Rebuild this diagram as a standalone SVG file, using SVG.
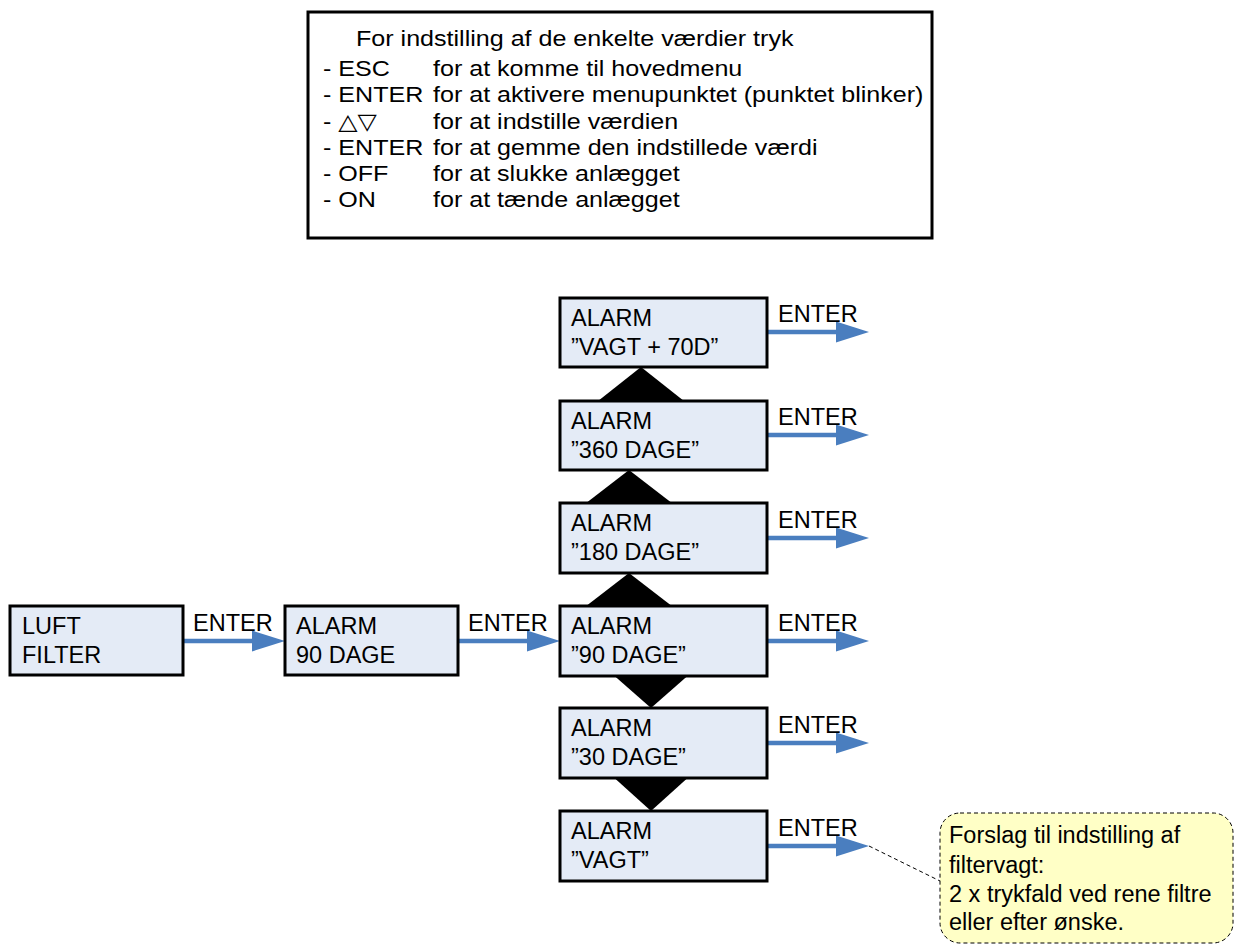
<svg xmlns="http://www.w3.org/2000/svg" width="1242" height="944" viewBox="0 0 1242 944">
<style>
text{font-family:"Liberation Sans","DejaVu Sans",Arial,sans-serif;fill:#000}
.node{fill:#E4EBF6;stroke:#000;stroke-width:3}
.t{font-size:23.5px}
.leg{font-size:22px}
.arr{stroke:#4A7EBF;stroke-width:4.5;fill:none}
.tri{fill:#000}
</style>
<defs>
<marker id="ah" markerUnits="userSpaceOnUse" markerWidth="34" markerHeight="22" refX="0" refY="10.5" orient="auto" overflow="visible">
<path d="M0,0 L33,10.5 L0,21 Z" fill="#4A7EBF"/>
</marker>
</defs>
<g id="legend">
<rect x="308" y="12" width="624" height="226" fill="#fff" stroke="#000" stroke-width="3"/>
<text class="leg" transform="translate(356,46) scale(1.14,1)">For indstilling af de enkelte værdier tryk</text>
<text class="leg" transform="translate(323,76) scale(1.14,1)">- ESC</text>
<text class="leg" transform="translate(433,76) scale(1.14,1)">for at komme til hovedmenu</text>
<text class="leg" transform="translate(323,102) scale(1.14,1)">- ENTER</text>
<text class="leg" transform="translate(433,102) scale(1.14,1)">for at aktivere menupunktet (punktet blinker)</text>
<text class="leg" transform="translate(323,129) scale(1.14,1)">- △▽</text>
<text class="leg" transform="translate(433,129) scale(1.14,1)">for at indstille værdien</text>
<text class="leg" transform="translate(323,155) scale(1.14,1)">- ENTER</text>
<text class="leg" transform="translate(433,155) scale(1.14,1)">for at gemme den indstillede værdi</text>
<text class="leg" transform="translate(323,181) scale(1.14,1)">- OFF</text>
<text class="leg" transform="translate(433,181) scale(1.14,1)">for at slukke anlægget</text>
<text class="leg" transform="translate(323,207) scale(1.14,1)">- ON</text>
<text class="leg" transform="translate(433,207) scale(1.14,1)">for at tænde anlægget</text>
</g>
<g id="connectors">
<polygon class="tri" points="641,367 689,405 593,405"/>
<polygon class="tri" points="629,470 677,507 581,507"/>
<polygon class="tri" points="629,573 677,610 581,610"/>
<polygon class="tri" points="610,672 692,672 651,708"/>
<polygon class="tri" points="610,774 692,774 651,811"/>
<line class="arr" x1="183" y1="641" x2="252" y2="641" marker-end="url(#ah)"/>
<line class="arr" x1="458" y1="641" x2="527" y2="641" marker-end="url(#ah)"/>
<line class="arr" x1="766" y1="332" x2="836" y2="332" marker-end="url(#ah)"/>
<line class="arr" x1="766" y1="435" x2="836" y2="435" marker-end="url(#ah)"/>
<line class="arr" x1="766" y1="538" x2="836" y2="538" marker-end="url(#ah)"/>
<line class="arr" x1="766" y1="641" x2="836" y2="641" marker-end="url(#ah)"/>
<line class="arr" x1="766" y1="743" x2="836" y2="743" marker-end="url(#ah)"/>
<line class="arr" x1="766" y1="846" x2="836" y2="846" marker-end="url(#ah)"/>
<text class="t" x="193" y="631">ENTER</text>
<text class="t" x="468" y="631">ENTER</text>
<text class="t" x="778" y="322">ENTER</text>
<text class="t" x="778" y="425">ENTER</text>
<text class="t" x="778" y="528">ENTER</text>
<text class="t" x="778" y="631">ENTER</text>
<text class="t" x="778" y="733">ENTER</text>
<text class="t" x="778" y="836">ENTER</text>
<line x1="869" y1="846" x2="940" y2="881" stroke="#000" stroke-width="1" stroke-dasharray="4,3"/>
</g>
<g id="luft">
<rect class="node" x="10" y="606" width="173" height="69"/>
<text class="t" x="22" y="634">LUFT</text>
<text class="t" x="22" y="663">FILTER</text>
</g>
<g id="alarm90start">
<rect class="node" x="285" y="606" width="173" height="69"/>
<text class="t" x="296" y="634">ALARM</text>
<text class="t" x="296" y="663">90 DAGE</text>
</g>
<g id="vagt70">
<rect class="node" x="560" y="298" width="207" height="69"/>
<text class="t" x="571" y="326">ALARM</text>
<text class="t" x="571" y="355">”VAGT + 70D”</text>
</g>
<g id="d360">
<rect class="node" x="560" y="401" width="207" height="69"/>
<text class="t" x="571" y="429">ALARM</text>
<text class="t" x="571" y="458">”360 DAGE”</text>
</g>
<g id="d180">
<rect class="node" x="560" y="503" width="207" height="70"/>
<text class="t" x="571" y="531">ALARM</text>
<text class="t" x="571" y="560">”180 DAGE”</text>
</g>
<g id="d90">
<rect class="node" x="560" y="606" width="207" height="70"/>
<text class="t" x="571" y="634">ALARM</text>
<text class="t" x="571" y="663">”90 DAGE”</text>
</g>
<g id="d30">
<rect class="node" x="560" y="708" width="207" height="70"/>
<text class="t" x="571" y="736">ALARM</text>
<text class="t" x="571" y="765">”30 DAGE”</text>
</g>
<g id="vagt">
<rect class="node" x="560" y="811" width="207" height="70"/>
<text class="t" x="571" y="839">ALARM</text>
<text class="t" x="571" y="868">”VAGT”</text>
</g>
<g id="callout">
<rect x="940" y="813" width="293" height="130" rx="20" ry="20" fill="#FFFFC6" stroke="#000" stroke-width="1" stroke-dasharray="4,3"/>
<text class="t" x="949" y="843">Forslag til indstilling af</text>
<text class="t" x="949" y="873">filtervagt:</text>
<text class="t" x="949" y="902">2 x trykfald ved rene filtre</text>
<text class="t" x="949" y="930">eller efter ønske.</text>
</g>
</svg>
